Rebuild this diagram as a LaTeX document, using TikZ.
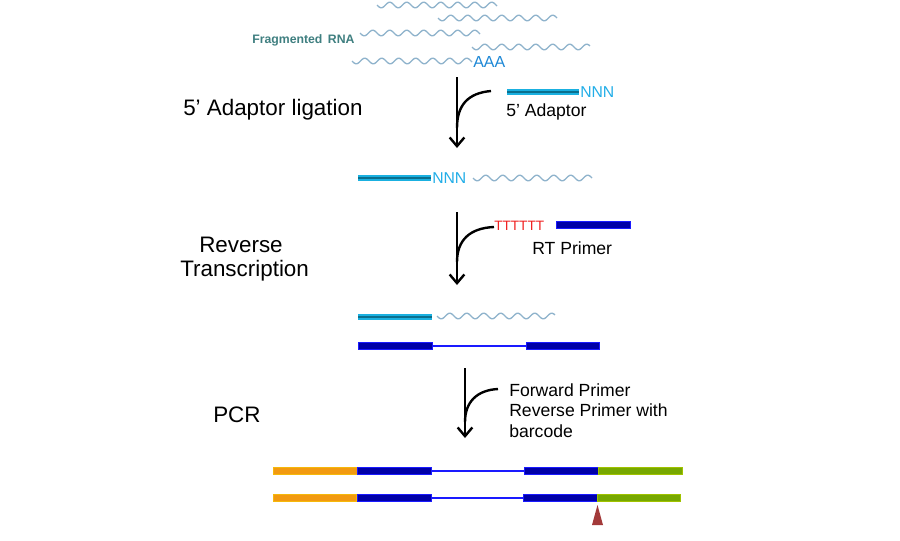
\documentclass[tikz,border=0pt]{standalone}
\usepackage{fontspec}
\setmainfont{Liberation Sans}
\usetikzlibrary{arrows.meta}
\definecolor{wavec}{HTML}{8FB3CC}
\definecolor{cyanbar}{HTML}{1AB0E0}
\definecolor{cyandark}{HTML}{0A6F8E}
\definecolor{cyantext}{HTML}{22AEE8}
\definecolor{aaatext}{HTML}{1E88D6}
\definecolor{teal}{HTML}{3F7F80}
\definecolor{dblue}{HTML}{0000A8}
\definecolor{bblue}{HTML}{1A1AFF}
\definecolor{orangeb}{HTML}{F29A10}
\definecolor{greenb}{HTML}{77A800}
\definecolor{tri}{HTML}{A33A3A}
\definecolor{rtred}{HTML}{F02020}
\tikzset{
  wave/.style={draw=wavec, line width=1pt},
  flow/.style={draw=black, line width=1.8pt, -{Straight Barb[length=6.5pt,width=11pt,line width=1.8pt]}},
  curvein/.style={draw=black, line width=1.8pt},
  big/.style={font=\fontsize{16.8}{20}\selectfont, inner sep=0pt, anchor=west},
  small/.style={font=\fontsize{13.2}{16}\selectfont, inner sep=0pt, anchor=west},
  nnn/.style={font=\fontsize{11.8}{14}\selectfont, text=cyantext, inner sep=0pt, anchor=west},
  linker/.style={draw=bblue, line width=1.6pt},
}
\newcommand{\wavy}[3]{\draw[wave] plot[domain=0:#2, samples=120, smooth] ({#1+\x}, {#3+2.8*sin(\x*21.176)});}
\newcommand{\cyanseg}[3]{\fill[cyanbar] (#1,#3-3.2) rectangle (#2,#3+3.2); \fill[cyandark] (#1,#3-1.2) rectangle (#2,#3+1.2);}
\newcommand{\blueseg}[3]{\filldraw[fill=dblue, draw=bblue, line width=0.6pt] (#1,#3-3.5) rectangle (#2,#3+3.5);}
\newcommand{\orangeseg}[3]{\filldraw[fill=orangeb, draw=orangeb!70!yellow, line width=0.6pt] (#1,#3-3.5) rectangle (#2,#3+3.5);}
\newcommand{\greenseg}[3]{\filldraw[fill=greenb, draw=greenb!70!yellow, line width=0.6pt] (#1,#3-3.5) rectangle (#2,#3+3.5);}
\begin{document}
\begin{tikzpicture}[x=0.75pt, y=-0.75pt]
\useasboundingbox[fill=white] (0,0) rectangle (900,540);

% Fragmented RNA
\wavy{377}{120}{5}
\wavy{438}{119}{18}
\wavy{360}{120}{33}
\wavy{472}{118}{47}
\wavy{352}{120}{61}
\node[font=\bfseries\fontsize{9.2}{11}\selectfont, text=teal, inner sep=0pt, anchor=west] (frag) at (252,40) {Fragmented\, RNA};
\node[font=\fontsize{12}{14}\selectfont, text=aaatext, inner sep=0pt, anchor=west] (aaa) at (473,62) {AAA};

% Step 1
\node[big] (lig) at (183,110) {5’ Adaptor ligation};
\cyanseg{507}{579}{92}
\node[nnn] (nnn1) at (580,92.5) {NNN};
\node[small] (adap) at (506,112) {5’ Adaptor};
\coordinate (a1s) at (457,77);
\coordinate (a1e) at (457,148);
\coordinate (b1) at (491,91);
\draw[flow] (a1s) -- (a1e);
\draw[curvein] (b1) .. controls (468,93) and (457,105) .. (457,128);

% Row 2
\cyanseg{358}{431}{178}
\node[nnn] (nnn2) at (432,178.5) {NNN};
\wavy{473}{119}{178}

% Step 2
\node[big, anchor=center] (rev) at (241,245) {Reverse};
\node[big] (trans) at (180,271) {Transcription};
\node[font=\fontsize{10.2}{12}\selectfont, text=rtred, inner sep=0pt, anchor=west] (tt) at (494,226) {TTTTTT};
\blueseg{556}{630}{225}
\node[small] (rtp) at (532,248) {RT Primer};
\coordinate (a2s) at (457,212);
\coordinate (a2e) at (457,285);
\coordinate (b2) at (494,227);
\draw[flow] (a2s) -- (a2e);
\draw[curvein] (b2) .. controls (470,228) and (457,240) .. (457,262);

% Row 3
\cyanseg{358}{432}{317}
\wavy{437}{118}{316}
\draw[linker] (432,346) -- (526,346);
\blueseg{358}{432}{346}
\blueseg{526}{599}{346}

% Step 3
\node[big] (pcr) at (213,415) {PCR};
\node[small] (fw) at (509,390) {Forward Primer};
\node[small] (rp) at (509,410) {Reverse Primer with};
\node[small] (bc) at (509,431) {barcode};
\coordinate (a3s) at (465,368);
\coordinate (a3e) at (465,438);
\coordinate (b3) at (498,389);
\draw[flow] (a3s) -- (a3e);
\draw[curvein] (b3) .. controls (477,390) and (465,402) .. (465,422);

% Row 4
\draw[linker] (431,471) -- (524,471);
\orangeseg{273}{357}{471}
\blueseg{357}{431}{471}
\blueseg{524}{598}{471}
\greenseg{598}{682}{471}

% Row 5
\draw[linker] (431,498) -- (523,498);
\orangeseg{273}{356}{498}
\blueseg{357}{431}{498}
\blueseg{523}{597}{498}
\greenseg{597}{680}{498}
\fill[tri] (597.5,505) -- (603,525) -- (592,525) -- cycle;
\end{tikzpicture}
\end{document}
